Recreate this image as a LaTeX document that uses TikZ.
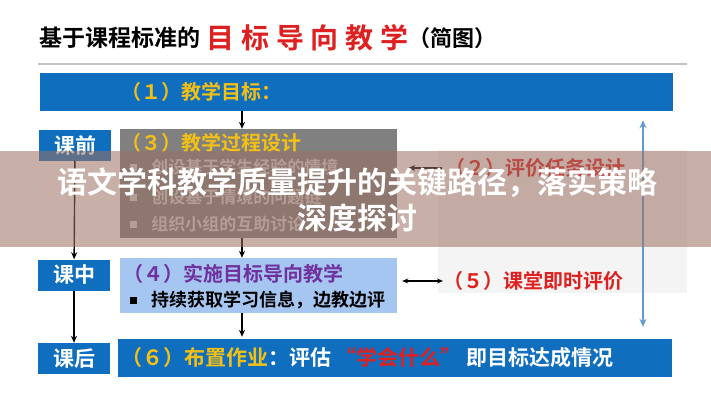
\documentclass[tikz,border=0pt]{standalone}
\usepackage{fontspec}
\setmainfont{Noto Sans CJK SC}[BoldFont={Noto Sans CJK SC Bold}]
\newfontfamily\redcjk{Noto Sans CJK SC Bold}[LetterSpace=24]
\usetikzlibrary{arrows.meta, positioning}
\definecolor{barblue}{RGB}{16, 110, 190}
\definecolor{goldtext}{RGB}{245, 192, 20}
\definecolor{boxgray}{RGB}{128, 128, 128}
\definecolor{itemgray}{RGB}{212, 212, 212}
\definecolor{lightblue}{RGB}{165, 198, 240}
\definecolor{purpletext}{RGB}{112, 48, 160}
\definecolor{redtext}{RGB}{222, 32, 32}
\definecolor{arrowblue}{RGB}{100, 155, 210}
\definecolor{rulegray}{RGB}{192, 192, 192}
\definecolor{panelgray}{RGB}{244, 244, 244}
\definecolor{bandbrown}{RGB}{155, 112, 98}
\tikzset{
    % Stage labels (before / during / after class)
    stage box/.style={
        rectangle, fill=barblue, text=white, inner sep=0pt,
        minimum width=72pt, minimum height=31pt,
        font=\fontsize{21}{21}\selectfont\bfseries
    },
    % Wide blue bars
    wide bar/.style={
        rectangle, fill=barblue, inner sep=0pt, minimum height=38pt
    },
    % Content boxes
    content box/.style={
        rectangle, inner sep=0pt, minimum width=277pt
    },
    % Texts
    heading/.style={
        anchor=west, inner sep=0pt, font=\fontsize{20}{20}\selectfont\bfseries
    },
    bullet text/.style={
        anchor=west, inner sep=0pt, font=\fontsize{17}{17}\selectfont\bfseries
    },
    bullet mark/.style={
        rectangle, inner sep=0pt, minimum size=7pt
    },
    % Arrows
    flow arrow/.style={
        -{Stealth[length=7pt, width=6pt]}, line width=1.4pt, black
    },
    both arrow/.style={
        {Stealth[length=6pt, width=5pt]}-{Stealth[length=6pt, width=5pt]}, line width=1.2pt, black
    },
    loop arrow/.style={
        {Stealth[length=8pt, width=7pt]}-{Stealth[length=8pt, width=7pt]}, line width=1.6pt, arrowblue
    }
}
\begin{document}
\begin{tikzpicture}[x=1pt, y=-1pt]
    \fill[white] (0,0) rectangle (711,400);
    \useasboundingbox (0,0) rectangle (711,400);

    % Title
    \node[anchor=west, inner sep=0pt, font=\fontsize{23}{23}\selectfont\bfseries] (title) at (39,38) {基于课程标准的};
    \node[right=6pt of title, inner sep=0pt, text=redtext, font=\redcjk\fontsize{28}{28}\selectfont] (titlered) {目标导向教学};
    \node[right=0pt of titlered, inner sep=0pt, font=\fontsize{22}{22}\selectfont\bfseries] (titletail) {（简图）};
    \draw[rulegray, line width=2pt] (38,64) -- (687,64);

    % (1) teaching goals
    \node[wide bar, minimum width=633pt] (goal) at (356.5,92) {};
    \node[heading, text=goldtext] (goaltext) at (121,92) {（１）教学目标：};

    % Stage labels
    \node[stage box] (before) at (75,145) {课前};
    \node[stage box] (during) at (74,275) {课中};
    \node[stage box] (after) at (74,358.5) {课后};

    % (3) process design
    \node[content box, fill=boxgray, minimum height=109pt] (design) at (258.5,183.5) {};
    \node[heading, text=goldtext] (designtitle) at (121,143) {（３）教学过程设计};
    \node[bullet mark, fill=itemgray] (b1) at (133.5,167) {};
    \node[bullet text, text=itemgray, right=14pt of b1] (item1) {创设基于学生经验的情境};
    \node[bullet mark, fill=itemgray] (b2) at (133.5,197) {};
    \node[bullet text, text=itemgray, right=14pt of b2] (item2) {创设基于情境的问题链};
    \node[bullet mark, fill=itemgray] (b3) at (133.5,224) {};
    \node[bullet text, text=itemgray, right=14pt of b3] (item3) {组织小组的互助讨论};

    % Evaluation panel with (2) and (5)
    \node[rectangle, fill=panelgray, inner sep=0pt, minimum width=249pt, minimum height=143pt] (panel) at (562.5,221.5) {};
    \node[heading, text=redtext] (evaltask) at (445,168) {（２）评价任务设计};
    \draw[flow arrow, line width=1.2pt, shorten <=3pt, shorten >=11pt] (evaltask.west) -- (design.east |- evaltask.west);

    % (4) goal oriented teaching
    \node[content box, fill=lightblue, minimum height=55pt] (implement) at (258.5,285.5) {};
    \node[heading, text=purpletext] (impltitle) at (123,274) {（４）实施目标导向教学};
    \node[bullet mark, fill=black] (b4) at (133.5,300) {};
    \node[bullet text, font=\fontsize{18}{18}\selectfont\bfseries, right=14pt of b4] (impltext) {持续获取学习信息，边教边评};

    \node[heading, text=redtext] (classeval) at (443,281) {（５）课堂即时评价};
    \draw[both arrow, shorten <=5pt] (implement.east |- classeval.west) -- (classeval.west);

    % (6) homework
    \node[wide bar, minimum width=554pt] (homework) at (395,358) {};
    \node[heading, text=white, font=\fontsize{21}{21}\selectfont\bfseries] (hwtext) at (121,358)
        {\textcolor{goldtext}{（６）布置作业}：评估 \textcolor{redtext}{“学会什么”} 即目标达成情况};

    % Flow arrows
    \coordinate (spine) at (242,0);
    \coordinate (fbline) at (643,0);
    \draw[flow arrow] (goal.south -| spine) -- (design.north -| spine);
    \draw[flow arrow] (design.south -| spine) -- (implement.north -| spine);
    \draw[flow arrow, shorten >=2pt] (implement.south -| spine) -- (homework.north -| spine);
    \draw[flow arrow] (before) -- (during);
    \draw[flow arrow] (during) -- (after);
    \draw[loop arrow, shorten <=9pt, shorten >=12pt] (goal.south -| fbline) -- (homework.north -| fbline);

    % Headline band
    \node[rectangle, fill=bandbrown, fill opacity=0.55, inner sep=0pt, minimum width=711pt, minimum height=96pt] (band) at (355.5,199) {};
    \node[text=white, align=center, font=\fontsize{30}{36}\selectfont\bfseries] (headline) at (357,200)
        {语文学科教学质量提升的关键路径，落实策略\\深度探讨};

\end{tikzpicture}
\end{document}
